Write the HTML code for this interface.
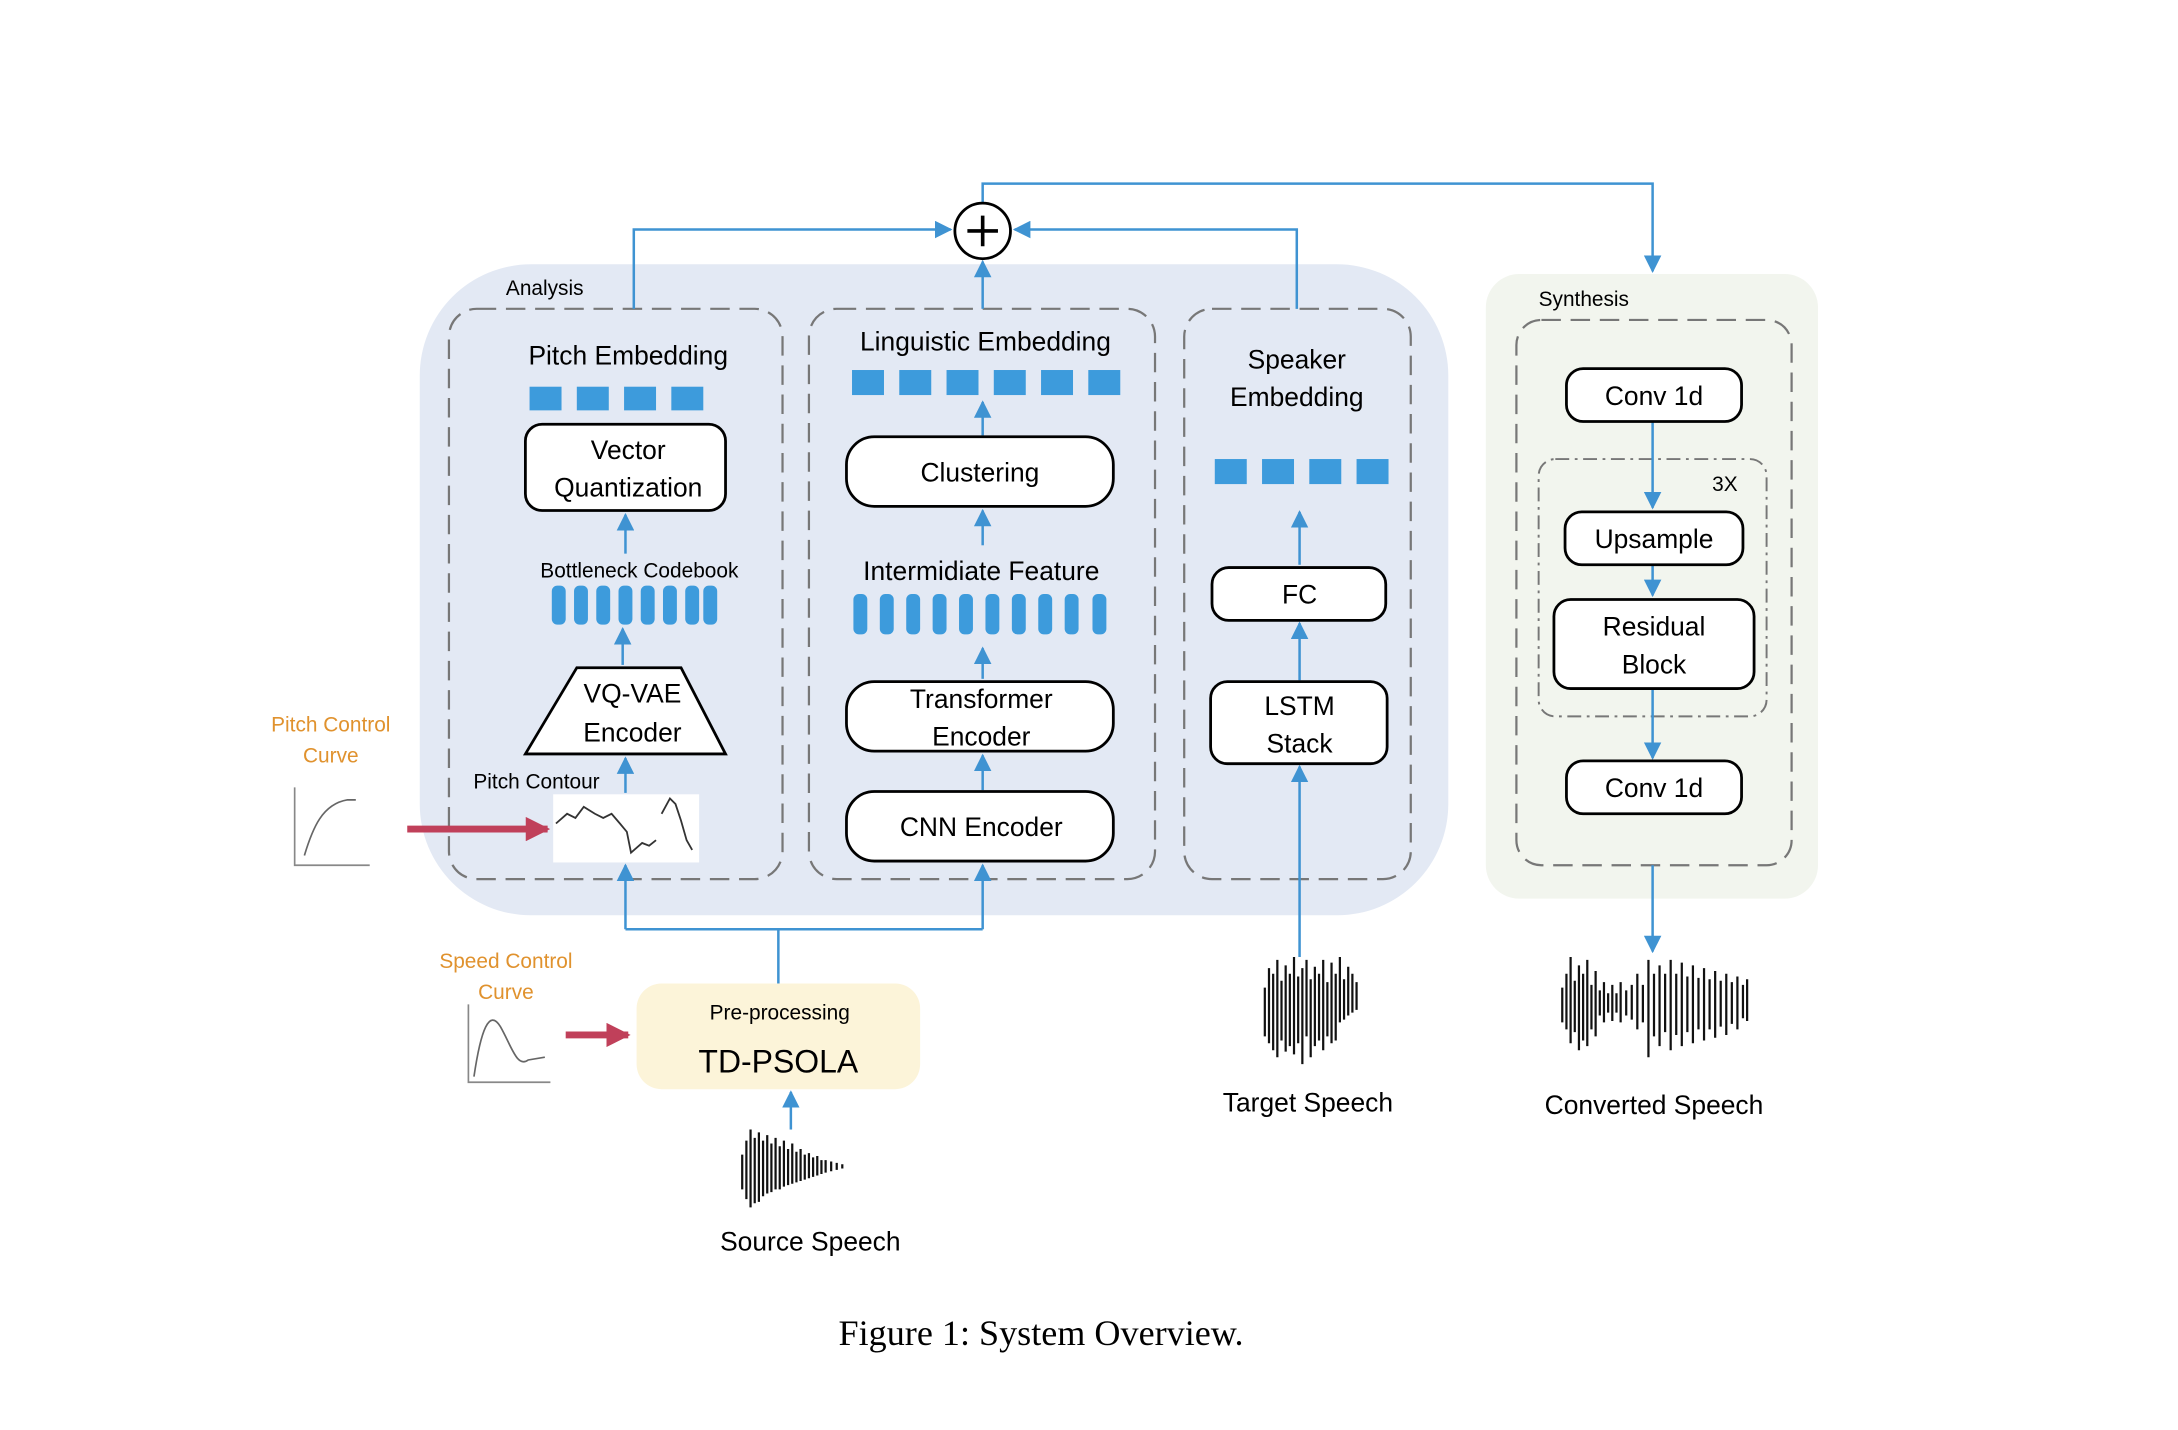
<!DOCTYPE html>
<html><head><meta charset="utf-8"><style>
html,body{margin:0;padding:0;background:#fff;}
svg{display:block;}
text{font-family:"Liberation Sans","DejaVu Sans",sans-serif;fill:#000;}
</style></head><body>
<svg width="2178" height="1430" viewBox="0 0 1567 1028" preserveAspectRatio="none" xmlns="http://www.w3.org/2000/svg">
<defs>
<marker id="a" viewBox="0 0 10 10" refX="9" refY="5" markerWidth="7" markerHeight="7" orient="auto-start-reverse"><path d="M0,0L10,5L0,10z" fill="#3f93d2"/></marker>
<marker id="r" viewBox="0 0 10 10" refX="9" refY="5" markerWidth="3.5" markerHeight="3.5" orient="auto"><path d="M0,0L10,5L0,10z" fill="#c0405a"/></marker>
</defs>
<rect x="302" y="190" width="740" height="468" rx="80" fill="#e3e9f4"/>
<rect x="1069" y="197" width="239" height="449" rx="24" fill="#f2f5ee"/>
<text x="364" y="212" font-size="15">Analysis</text>
<text x="1107" y="220" font-size="15">Synthesis</text>
<g fill="none" stroke="#777" stroke-width="1.6" stroke-dasharray="14,7">
<rect x="323" y="222" width="240" height="410" rx="20"/>
<rect x="582" y="222" width="249" height="410" rx="20"/>
<rect x="852" y="222" width="163" height="410" rx="20"/>
<rect x="1091" y="230" width="198" height="392" rx="18"/>
</g>
<rect x="1107" y="330" width="164" height="185" rx="12" fill="none" stroke="#777" stroke-width="1.4" stroke-dasharray="10,4,2,4"/>
<g fill="none" stroke="#3f93d2" stroke-width="1.8">
<path d="M456,222V165H684" marker-end="url(#a)"/>
<path d="M933,222V165H730" marker-end="url(#a)"/>
<path d="M707,222V188" marker-end="url(#a)"/>
<path d="M707,146V132H1189V195" marker-end="url(#a)"/>
<path d="M450,398V370" marker-end="url(#a)"/>
<path d="M448,478V452" marker-end="url(#a)"/>
<path d="M450,570V545" marker-end="url(#a)"/>
<path d="M707,313V289" marker-end="url(#a)"/>
<path d="M707,392V367" marker-end="url(#a)"/>
<path d="M707,488V466" marker-end="url(#a)"/>
<path d="M707,568V543" marker-end="url(#a)"/>
<path d="M935,406V368" marker-end="url(#a)"/>
<path d="M935,489V448" marker-end="url(#a)"/>
<path d="M935,688V551" marker-end="url(#a)"/>
<path d="M560,707V668"/>
<path d="M450,668H707"/>
<path d="M450,668V622" marker-end="url(#a)"/>
<path d="M707,668V622" marker-end="url(#a)"/>
<path d="M569,812V785" marker-end="url(#a)"/>
<path d="M1189,303V365" marker-end="url(#a)"/>
<path d="M1189,406V428" marker-end="url(#a)"/>
<path d="M1189,495V545" marker-end="url(#a)"/>
<path d="M1189,622V684" marker-end="url(#a)"/>
</g>
<circle cx="707" cy="166" r="20" fill="#fff" stroke="#000" stroke-width="2"/>
<path d="M707,155V177M696,166H718" stroke="#000" stroke-width="2.6"/>
<text x="452" y="262" font-size="19" text-anchor="middle">Pitch Embedding</text>
<g fill="#3d9bdc"><rect x="381" y="278" width="23" height="17"/><rect x="415" y="278" width="23" height="17"/><rect x="449" y="278" width="23" height="17"/><rect x="483" y="278" width="23" height="17"/></g>
<rect x="378" y="305" width="144" height="62" rx="12" fill="#fff" stroke="#000" stroke-width="2"/>
<text x="452" y="330" font-size="19" text-anchor="middle">Vector</text>
<text x="452" y="357" font-size="19" text-anchor="middle">Quantization</text>
<text x="460" y="415" font-size="15" text-anchor="middle">Bottleneck Codebook</text>
<g fill="#3d9bdc">
<rect x="397" y="421" width="10" height="28" rx="4"/><rect x="413" y="421" width="10" height="28" rx="4"/><rect x="429" y="421" width="10" height="28" rx="4"/><rect x="445" y="421" width="10" height="28" rx="4"/><rect x="461" y="421" width="10" height="28" rx="4"/><rect x="477" y="421" width="10" height="28" rx="4"/><rect x="493" y="421" width="10" height="28" rx="4"/><rect x="506" y="421" width="10" height="28" rx="4"/>
</g>
<path d="M415,480H490L522,542H378Z" fill="#fff" stroke="#000" stroke-width="2"/>
<text x="455" y="505" font-size="19" text-anchor="middle">VQ-VAE</text>
<text x="455" y="533" font-size="19" text-anchor="middle">Encoder</text>
<text x="386" y="567" font-size="15" text-anchor="middle">Pitch Contour</text>
<rect x="398" y="571" width="105" height="49" fill="#fff"/>
<path d="M400,592L408,585L414,588L420,580L428,585L434,588L440,585L446,592L451,598L454,613L462,606L467,608L472,604" fill="none" stroke="#333" stroke-width="1.3"/>
<path d="M476,585L482,574L486,578L490,590L494,604L498,611" fill="none" stroke="#333" stroke-width="1.3"/>
<path d="M293,596H394" stroke="#c0405a" stroke-width="5" marker-end="url(#r)"/>
<text x="238" y="526" font-size="15" text-anchor="middle" style="fill:#e0922e">Pitch Control</text>
<text x="238" y="548" font-size="15" text-anchor="middle" style="fill:#e0922e">Curve</text>
<path d="M212,566V622H266" fill="none" stroke="#888" stroke-width="1.2"/>
<path d="M219,615C225,595 232,578 250,575L256,575" fill="none" stroke="#666" stroke-width="1.2"/>
<text x="709" y="252" font-size="19" text-anchor="middle">Linguistic Embedding</text>
<g fill="#3d9bdc"><rect x="613" y="266" width="23" height="18"/><rect x="647" y="266" width="23" height="18"/><rect x="681" y="266" width="23" height="18"/><rect x="715" y="266" width="23" height="18"/><rect x="749" y="266" width="23" height="18"/><rect x="783" y="266" width="23" height="18"/></g>
<rect x="609" y="314" width="192" height="50" rx="20" fill="#fff" stroke="#000" stroke-width="2"/>
<text x="705" y="346" font-size="19" text-anchor="middle">Clustering</text>
<text x="706" y="417" font-size="19" text-anchor="middle">Intermidiate Feature</text>
<g fill="#3d9bdc">
<rect x="614" y="427" width="10" height="29" rx="4"/><rect x="633" y="427" width="10" height="29" rx="4"/><rect x="652" y="427" width="10" height="29" rx="4"/><rect x="671" y="427" width="10" height="29" rx="4"/><rect x="690" y="427" width="10" height="29" rx="4"/><rect x="709" y="427" width="10" height="29" rx="4"/><rect x="728" y="427" width="10" height="29" rx="4"/><rect x="747" y="427" width="10" height="29" rx="4"/><rect x="766" y="427" width="10" height="29" rx="4"/><rect x="786" y="427" width="10" height="29" rx="4"/>
</g>
<rect x="609" y="490" width="192" height="50" rx="20" fill="#fff" stroke="#000" stroke-width="2"/>
<text x="706" y="509" font-size="19" text-anchor="middle">Transformer</text>
<text x="706" y="536" font-size="19" text-anchor="middle">Encoder</text>
<rect x="609" y="569" width="192" height="50" rx="20" fill="#fff" stroke="#000" stroke-width="2"/>
<text x="706" y="601" font-size="19" text-anchor="middle">CNN Encoder</text>
<text x="933" y="265" font-size="19" text-anchor="middle">Speaker</text>
<text x="933" y="292" font-size="19" text-anchor="middle">Embedding</text>
<g fill="#3d9bdc"><rect x="874" y="330" width="23" height="18"/><rect x="908" y="330" width="23" height="18"/><rect x="942" y="330" width="23" height="18"/><rect x="976" y="330" width="23" height="18"/></g>
<rect x="872" y="408" width="125" height="38" rx="12" fill="#fff" stroke="#000" stroke-width="2"/>
<text x="935" y="434" font-size="19" text-anchor="middle">FC</text>
<rect x="871" y="490" width="127" height="59" rx="12" fill="#fff" stroke="#000" stroke-width="2"/>
<text x="935" y="514" font-size="19" text-anchor="middle">LSTM</text>
<text x="935" y="541" font-size="19" text-anchor="middle">Stack</text>
<rect x="1127" y="265" width="126" height="38" rx="12" fill="#fff" stroke="#000" stroke-width="2"/>
<text x="1190" y="291" font-size="19" text-anchor="middle">Conv 1d</text>
<text x="1241" y="353" font-size="15" text-anchor="middle">3X</text>
<rect x="1126" y="368" width="128" height="38" rx="12" fill="#fff" stroke="#000" stroke-width="2"/>
<text x="1190" y="394" font-size="19" text-anchor="middle">Upsample</text>
<rect x="1118" y="431" width="144" height="64" rx="12" fill="#fff" stroke="#000" stroke-width="2"/>
<text x="1190" y="457" font-size="19" text-anchor="middle">Residual</text>
<text x="1190" y="484" font-size="19" text-anchor="middle">Block</text>
<rect x="1127" y="547" width="126" height="38" rx="12" fill="#fff" stroke="#000" stroke-width="2"/>
<text x="1190" y="573" font-size="19" text-anchor="middle">Conv 1d</text>
<rect x="458" y="707" width="204" height="76" rx="18" fill="#fcf4d9"/>
<text x="561" y="733" font-size="15" text-anchor="middle">Pre-processing</text>
<text x="560" y="771" font-size="23" text-anchor="middle">TD-PSOLA</text>
<text x="364" y="696" font-size="15" text-anchor="middle" style="fill:#e0922e">Speed Control</text>
<text x="364" y="718" font-size="15" text-anchor="middle" style="fill:#e0922e">Curve</text>
<path d="M337,722V778H396" fill="none" stroke="#888" stroke-width="1.2"/>
<path d="M341,774C346,740 352,725 360,738C368,752 372,768 380,762L392,760" fill="none" stroke="#666" stroke-width="1.2"/>
<path d="M407,744H452" stroke="#c0405a" stroke-width="5" marker-end="url(#r)"/>
<g stroke="#111" stroke-width="1.6">
<path d="M534,830V855M537,820V862M540,812V868M543,818V865M546,814V864M549,820V860M552,816V858M555,822V857M558,818V855M561,824V855M564,820V853M567,826V852M570,822V851M573,828V850M576,826V849M579,830V848M582,829V847M585,832V846M588,831V845M591,834V844M594,834V843M598,835V842M602,836V841M606,837V840"/>
<path d="M910,710V745M913,696V750M916,700V755M919,690V760M922,705V748M925,694V756M928,700V752M931,688V758M934,702V750M937,696V765M940,690V745M943,704V760M946,695V752M949,700V748M952,690V755M955,706V745M958,692V750M961,700V748M964,688V735M967,704V733M970,695V730M973,700V728M976,706V726"/>
<path d="M1124,710V735M1127,700V740M1130,688V750M1133,705V742M1136,694V755M1139,700V748M1142,690V752M1145,708V740M1148,698V745M1151,712V730M1154,706V735M1157,714V728M1160,708V734M1163,714V728M1166,706V735M1170,712V730M1174,708V733M1178,700V740M1182,708V735M1186,690V760M1190,700V745M1194,694V752M1198,700V742M1202,690V755M1206,700V744M1210,692V752M1214,702V742M1218,694V750M1222,703V740M1226,696V748M1230,704V740M1234,698V746M1238,705V738M1242,700V744M1246,706V736M1250,702V740M1254,708V732M1257,704V734"/>
</g>
<text x="583" y="899" font-size="19" text-anchor="middle">Source Speech</text>
<text x="941" y="799" font-size="19" text-anchor="middle">Target Speech</text>
<text x="1190" y="801" font-size="19" text-anchor="middle">Converted Speech</text>
<text x="749" y="967" font-size="26" text-anchor="middle" style="font-family:'Liberation Serif',serif">Figure 1: System Overview.</text>
</svg>
</body></html>
